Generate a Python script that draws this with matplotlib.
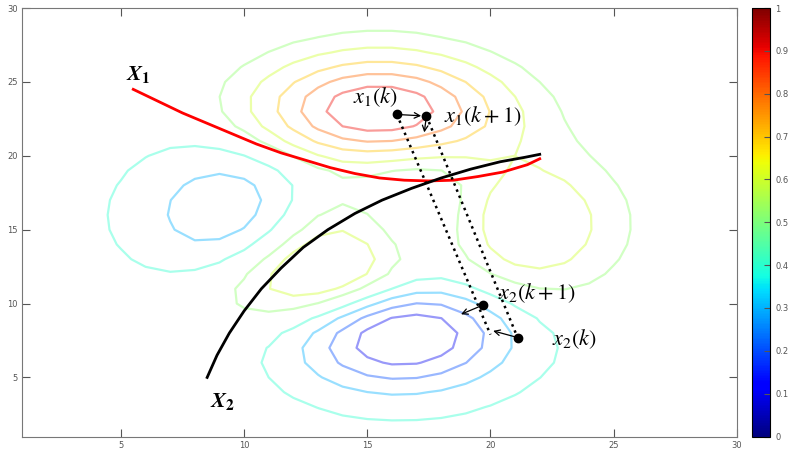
import numpy as np
import matplotlib
matplotlib.use("Agg")
import matplotlib.pyplot as plt

plt.rcParams["mathtext.fontset"] = "stix"

# --- data ------------------------------------------------------------------
# the surface is MATLAB's peaks() on a 30x30 grid, rescaled to 0..1
GRID_N = 30
LEVELS = [0.1, 0.2, 0.3, 0.4, 0.52, 0.6, 0.7, 0.8, 0.9]

# red curve X1 and black curve X2
X1_x = [5.5, 6.5, 7.5, 8.5, 9.5, 10.5, 11.5, 12.5, 13.5, 14.5, 15.5, 16.5,
        17.5, 18.5, 19.5, 20.5, 21.5, 22.0]
X1_y = [24.5, 23.7, 22.9, 22.2, 21.5, 20.8, 20.2, 19.7, 19.2, 18.8, 18.5, 18.35,
        18.3, 18.35, 18.6, 18.9, 19.4, 19.8]
X2_x = [8.5, 8.9, 9.4, 10.0, 10.7, 11.5, 12.4, 13.4, 14.5, 15.6, 16.8, 18.0,
        19.2, 20.4, 21.4, 22.0]
X2_y = [5.0, 6.5, 8.0, 9.5, 11.0, 12.4, 13.8, 15.0, 16.1, 17.0, 17.8, 18.5,
        19.1, 19.6, 19.9, 20.1]

# points
PTS_x = [16.2, 17.4, 19.7, 21.1]
PTS_y = [22.8, 22.7, 9.9, 7.7]
PTS_lab = [r"$x_1(k)$", r"$x_1(k+1)$", r"$x_2(k+1)$", r"$x_2(k)$"]
LAB_x = [14.4, 18.1, 20.3, 22.5]
LAB_y = [24.0, 22.7, 10.7, 7.6]


def peaks(n):
    v = np.linspace(-3, 3, n)
    x, y = np.meshgrid(v, v)
    z = (3 * (1 - x) ** 2 * np.exp(-x ** 2 - (y + 1) ** 2)
         - 10 * (x / 5 - x ** 3 - y ** 5) * np.exp(-x ** 2 - y ** 2)
         - 1 / 3 * np.exp(-(x + 1) ** 2 - y ** 2))
    return z


Z = peaks(GRID_N)
Z = (Z - Z.min()) / (Z.max() - Z.min())
g = np.arange(1, GRID_N + 1)

fig = plt.figure(figsize=(8, 4.5), dpi=100)
ax = fig.add_axes([0.028, 0.03, 0.893, 0.952])
cax = fig.add_axes([0.94, 0.03, 0.023, 0.952])

ax.contour(g, g, Z, levels=LEVELS, cmap="jet", vmin=0, vmax=1,
           linewidths=1.6, alpha=0.4)

ax.plot(X1_x, X1_y, color="red", lw=2)
ax.plot(X2_x, X2_y, color="black", lw=2)

# dotted connections
ax.plot([PTS_x[0], 20.0], [PTS_y[0], 7.9], "k:", lw=1.8)
ax.plot([PTS_x[1], PTS_x[3]], [PTS_y[1], PTS_y[3]], "k:", lw=1.8)

ax.plot(PTS_x, PTS_y, "ko", ms=6)
arrows = [((PTS_x[0], PTS_y[0]), (PTS_x[1] - 0.1, PTS_y[1])),
          ((PTS_x[1], PTS_y[1]), (17.3, 21.4)),
          ((PTS_x[2], PTS_y[2]), (18.7, 9.2)),
          ((PTS_x[3], PTS_y[3]), (20.0, 8.2))]
for (x0, y0), (x1, y1) in arrows:
    ax.annotate("", xy=(x1, y1), xytext=(x0, y0),
                arrowprops=dict(arrowstyle="->", lw=0.9, color="black"))
for lx, ly, lab in zip(LAB_x, LAB_y, PTS_lab):
    ax.text(lx, ly, lab, fontsize=16, ha="left", va="center")
ax.text(5.2, 25.5, r"$\mathbfit{X}_\mathbf{1}$", fontsize=16, ha="left", va="center")
ax.text(8.6, 3.4, r"$\mathbfit{X}_\mathbf{2}$", fontsize=16, ha="left", va="center")

ax.set_xlim(1, 30)
ax.set_ylim(1, 30)
ax.set_xticks([5, 10, 15, 20, 25, 30])
ax.set_yticks([5, 10, 15, 20, 25, 30])
ax.tick_params(labelsize=6, colors="#555555", direction="in",
               top=True, right=True, length=6)
for s in ax.spines.values():
    s.set_color("#777777")

sm = matplotlib.cm.ScalarMappable(norm=matplotlib.colors.Normalize(0, 1), cmap="jet")
cb = fig.colorbar(sm, cax=cax, ticks=np.arange(0, 1.01, 0.1))
cb.ax.tick_params(labelsize=6, colors="#555555", direction="in", length=4)
cb.ax.set_yticklabels(["0", "0.1", "0.2", "0.3", "0.4", "0.5", "0.6", "0.7", "0.8", "0.9", "1"])

fig.savefig("out.png", dpi=100)
